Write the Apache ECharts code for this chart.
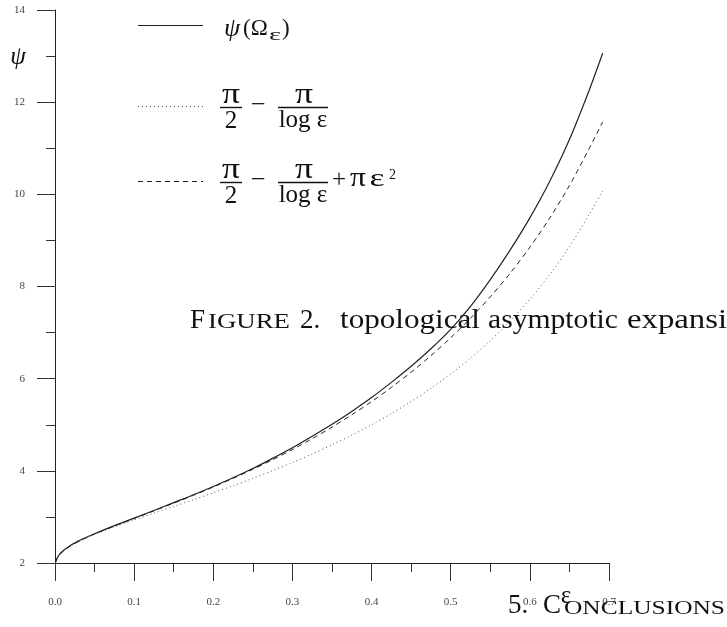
<!DOCTYPE html>
<html>
<head>
<meta charset="utf-8">
<script src="https://cdn.jsdelivr.net/npm/echarts@6/dist/echarts.min.js"></script>
<style>html,body{margin:0;padding:0;background:#fff}#c{width:727px;height:627px}</style>
</head>
<body>
<div id="c"></div>
<script>
// epsilon values (x axis)
const epsValues = [0.001, 0.0025, 0.005, 0.01, 0.02, 0.03, 0.04, 0.05, 0.075, 0.1, 0.125, 0.15, 0.175, 0.2, 0.225, 0.25, 0.275, 0.3, 0.325, 0.35, 0.375, 0.4, 0.425, 0.45, 0.475, 0.5, 0.525, 0.55, 0.575, 0.6, 0.625, 0.65, 0.675, 0.692];
// psi(Omega_eps) - solid
const psiSolid = [2.03, 2.10, 2.17, 2.26, 2.385, 2.48, 2.56, 2.636, 2.81, 2.975, 3.14, 3.31, 3.48, 3.66, 3.85, 4.05, 4.27, 4.50, 4.75, 5.01, 5.29, 5.59, 5.92, 6.27, 6.65, 7.07, 7.57, 8.15, 8.79, 9.49, 10.28, 11.19, 12.26, 13.06];
// pi/2 - pi/log eps - dotted
const psiDotted = [2.026, 2.095, 2.164, 2.253, 2.374, 2.467, 2.547, 2.620, 2.784, 2.935, 3.082, 3.227, 3.373, 3.523, 3.677, 3.837, 4.004, 4.180, 4.366, 4.564, 4.774, 4.999, 5.242, 5.505, 5.791, 6.103, 6.446, 6.826, 7.248, 7.721, 8.255, 8.863, 9.565, 10.07];
// pi/2 - pi/log eps + pi eps^2 - dashed
const psiDashed = [2.026, 2.095, 2.164, 2.253, 2.375, 2.470, 2.552, 2.628, 2.802, 2.966, 3.131, 3.298, 3.469, 3.649, 3.836, 4.033, 4.242, 4.463, 4.698, 4.949, 5.216, 5.502, 5.810, 6.141, 6.500, 6.888, 7.312, 7.776, 8.287, 8.852, 9.482, 10.190, 10.996, 11.57];
const xTickLabels = ['0.0','0.1','0.2','0.3','0.4','0.5','0.6','0.7'];
const yTickLabels = ['2','4','6','8','10','12','14'];

const SERIF = "'Liberation Serif', 'DejaVu Serif', serif";
const pair = ys => epsValues.map((x, i) => [x, ys[i]]);

const chart = echarts.init(document.getElementById('c'), null, {renderer: 'canvas'});

const axisCommon = {
  axisLine: {show: true, lineStyle: {color: '#222', width: 1}},
  axisTick: {show: true, inside: false, length: 18, lineStyle: {color: '#333', width: 1}},
  minorTick: {show: true, splitNumber: 2, length: 9, lineStyle: {color: '#333', width: 1}},
  splitLine: {show: false},
  minorSplitLine: {show: false}
};

const mctx = document.createElement('canvas').getContext('2d');
function measure(text, font) { mctx.font = font; return mctx.measureText(text).width; }

function txt(x, y, text, size, opts) {
  opts = opts || {};
  return {
    type: 'text', silent: true, z: 10,
    style: {
      x: x, y: y, text: text,
      font: (opts.italic ? 'italic ' : '') + size + 'px ' + SERIF,
      fill: opts.fill || '#111',
      textAlign: opts.align || 'center',
      textVerticalAlign: opts.valign || 'middle'
    }
  };
}
// glyph centred at cx (middle-aligned at y) and stretched to a given width
function glyph(cx, y, text, size, width) {
  const font = size + 'px ' + SERIF;
  const s = width / measure(text, font);
  return {
    type: 'text', silent: true, z: 10,
    x: cx, y: y, scaleX: s, scaleY: 1,
    style: {x: 0, y: 0, text: text, font: font, fill: '#111',
            textAlign: 'center', textVerticalAlign: 'middle'}
  };
}
// text placed by its left edge and baseline, stretched horizontally to a given width
function fitText(left, baseline, text, size, width, refText) {
  const font = size + 'px ' + SERIF;
  const s = width ? width / measure(refText || text, font) : 1;
  return {
    type: 'text', silent: true, z: 20,
    x: left, y: baseline - 0.3375 * size, scaleX: s, scaleY: 1,
    style: {x: 0, y: 0, text: text, font: font, fill: '#111',
            textAlign: 'left', textVerticalAlign: 'middle'}
  };
}
function seg(x1, y1, x2, y2, dash, color, w) {
  return {
    type: 'line', silent: true, z: 10,
    shape: {x1: x1, y1: y1, x2: x2, y2: y2},
    style: {stroke: color || '#111', lineWidth: w || 1, lineDash: dash || null}
  };
}

// fraction legend row, barY = vertical position of the fraction bars
function fractionRow(barY) {
  return [
    glyph(231, barY - 12, 'π', 29, 18),
    seg(220, barY + 0.5, 242, barY + 0.5, null, '#111', 1.4),
    txt(231, barY + 14, '2', 25),
    glyph(258, barY - 2, '−', 25, 15),
    glyph(304, barY - 12, 'π', 29, 18),
    seg(278, barY + 0.5, 328, barY + 0.5, null, '#111', 1.4),
    txt(303, barY + 13, 'log ε', 25)
  ];
}

const graphics = [
  // axis names
  txt(18, 57, 'ψ', 25, {italic: true}),
  txt(566, 596, 'ε', 25),
  // legend row 1
  seg(138, 25.5, 203, 25.5, null, '#222', 1),
  txt(224, 29, 'ψ', 26, {italic: true, align: 'left'}),
  txt(243, 29, '(Ω', 23, {align: 'left'}),
  glyph(275, 36, 'ε', 16, 12),
  txt(282, 29, ')', 23, {align: 'left'}),
  // legend row 2 (dotted)
  seg(138, 106.5, 203, 106.5, [1, 3], '#555', 1)
].concat(fractionRow(107)).concat([
  // legend row 3 (dashed)
  seg(138, 181.5, 203, 181.5, [5, 4], '#222', 1)
]).concat(fractionRow(182)).concat([
  txt(339, 180, '+', 25),
  glyph(358, 179, 'π', 27, 16),
  glyph(377, 179.5, 'ε', 25, 15),
  txt(389, 175, '2', 14, {align: 'left'}),
  // page overlay text (figure caption and section heading)
  fitText(190, 330, 'F', 27),
  fitText(208, 330, 'IGURE', 21, 82),
  fitText(300, 330, '2.', 27),
  fitText(340, 330, 'topological', 27, 140),
  fitText(488, 330, 'asymptotic', 27, 130),
  fitText(627, 330, 'expansion', 27, 100, 'expansi'),
  fitText(508, 615, '5.', 27),
  fitText(543, 615, 'C', 27),
  fitText(564, 615, 'ONCLUSIONS', 19, 161)
]);

chart.setOption({
  animation: false,
  backgroundColor: '#fff',
  grid: {left: 55, top: 10, right: 118, bottom: 64, containLabel: false},
  xAxis: Object.assign({
    type: 'value', min: 0, max: 0.7, interval: 0.1,
    axisLabel: {
      margin: 34, fontSize: 11, fontFamily: SERIF, color: '#444',
      formatter: v => xTickLabels[Math.round(v * 10)]
    }
  }, axisCommon),
  yAxis: Object.assign({
    type: 'value', min: 2, max: 14, interval: 2,
    axisLabel: {
      margin: 30, fontSize: 11, fontFamily: SERIF, color: '#444',
      formatter: v => yTickLabels[Math.round((v - 2) / 2)]
    }
  }, axisCommon),
  series: [
    {name: 'psi', type: 'line', data: pair(psiSolid), showSymbol: false, smooth: 0.3,
     lineStyle: {color: '#222', width: 1.2, type: 'solid'}, clip: true},
    {name: 'dotted', type: 'line', data: pair(psiDotted), showSymbol: false, smooth: 0.3,
     lineStyle: {color: '#555', width: 1, type: [1, 3]}, clip: true},
    {name: 'dashed', type: 'line', data: pair(psiDashed), showSymbol: false, smooth: 0.3,
     lineStyle: {color: '#222', width: 1, type: [5, 4]}, clip: true}
  ],
  graphic: graphics
});
</script>
</body>
</html>
